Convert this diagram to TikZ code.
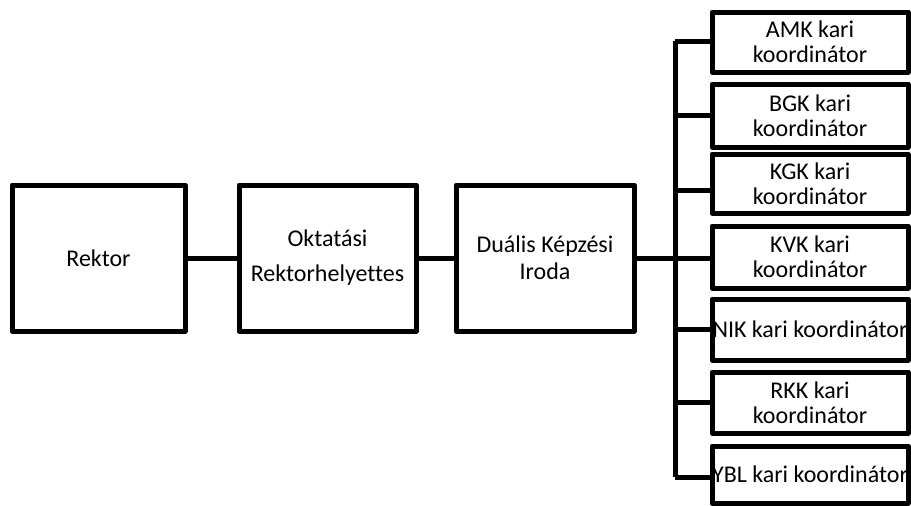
\documentclass[tikz,border=0pt]{standalone}
\usepackage{fontspec}
\setmainfont{Carlito}[Ligatures=NoCommon]
\begin{document}
\begin{tikzpicture}[x=1pt,y=-1pt,
  box/.style={draw=black,line width=5pt,line join=round,rectangle,inner sep=0pt,outer sep=0pt},
  bigtext/.style={align=center,font=\fontsize{24}{35}\selectfont},
  midtext/.style={align=center,font=\fontsize{24}{26.5}\selectfont},
  kartext/.style={align=center,font=\fontsize{24}{25}\selectfont},
  link/.style={draw=black,line width=5pt,line join=round}]
\useasboundingbox (0,0) rectangle (911,506);

% main chain
\node[box,minimum width=173pt,minimum height=146pt] (rektor) at (98.5,258) {};
\node[box,minimum width=177pt,minimum height=146pt] (okt) at (327.5,258) {};
\node[box,minimum width=178pt,minimum height=146pt] (dual) at (545,258) {};
\node[bigtext] (rektorT) at (rektor) {Rektor};
\node[bigtext] (oktT) at (okt) {Oktatási\\Rektorhelyettes};
\node[midtext] (dualT) at (dual) {Duális Képzési\\Iroda};

% faculty coordinators
\node[box,minimum width=196pt,minimum height=60pt] (amk) at (810,42) {};
\node[box,minimum width=196pt,minimum height=63pt] (bgk) at (810,115.5) {};
\node[box,minimum width=196pt,minimum height=59pt] (kgk) at (810,183.5) {};
\node[box,minimum width=196pt,minimum height=62pt] (kvk) at (810,257) {};
\node[box,minimum width=196pt,minimum height=61pt] (nik) at (810,329.5) {};
\node[box,minimum width=196pt,minimum height=61pt] (rkk) at (810,402.5) {};
\node[box,minimum width=196pt,minimum height=57pt] (ybl) at (810,474.5) {};

\node[kartext] (amkT) at (amk) {AMK kari\\koordinátor};
\node[kartext] (bgkT) at (bgk) {BGK kari\\koordinátor};
\node[kartext] (kgkT) at (kgk) {KGK kari\\koordinátor};
\node[kartext] (kvkT) at (kvk) {KVK kari\\koordinátor};
\node[kartext] (nikT) at (nik) {NIK kari koordinátor};
\node[kartext] (rkkT) at (rkk) {RKK kari\\koordinátor};
\node[kartext] (yblT) at (ybl) {YBL kari koordinátor};

% connectors
\coordinate (bus) at (675,0);
\draw[link] (rektor.east) -- (okt.west);
\draw[link] (okt.east) -- (dual.west);
\draw[link] (dual.east) -- (dual.east -| kvk.west);
\draw[link] ([yshift=1pt]amk.west -| bus) -- ([yshift=-2.5pt]ybl.west -| bus);
\draw[link] ([yshift=1pt]amk.west) -- ([yshift=1pt]amk.west -| bus);
\draw[link] (bgk.west) -- (bgk.west -| bus);
\draw[link] ([yshift=-6.5pt]kgk.west) -- ([yshift=-6.5pt]kgk.west -| bus);
\draw[link] (nik.west) -- (nik.west -| bus);
\draw[link] (rkk.west) -- (rkk.west -| bus);
\draw[link] ([yshift=-2.5pt]ybl.west) -- ([yshift=-2.5pt]ybl.west -| bus);
\end{tikzpicture}
\end{document}
